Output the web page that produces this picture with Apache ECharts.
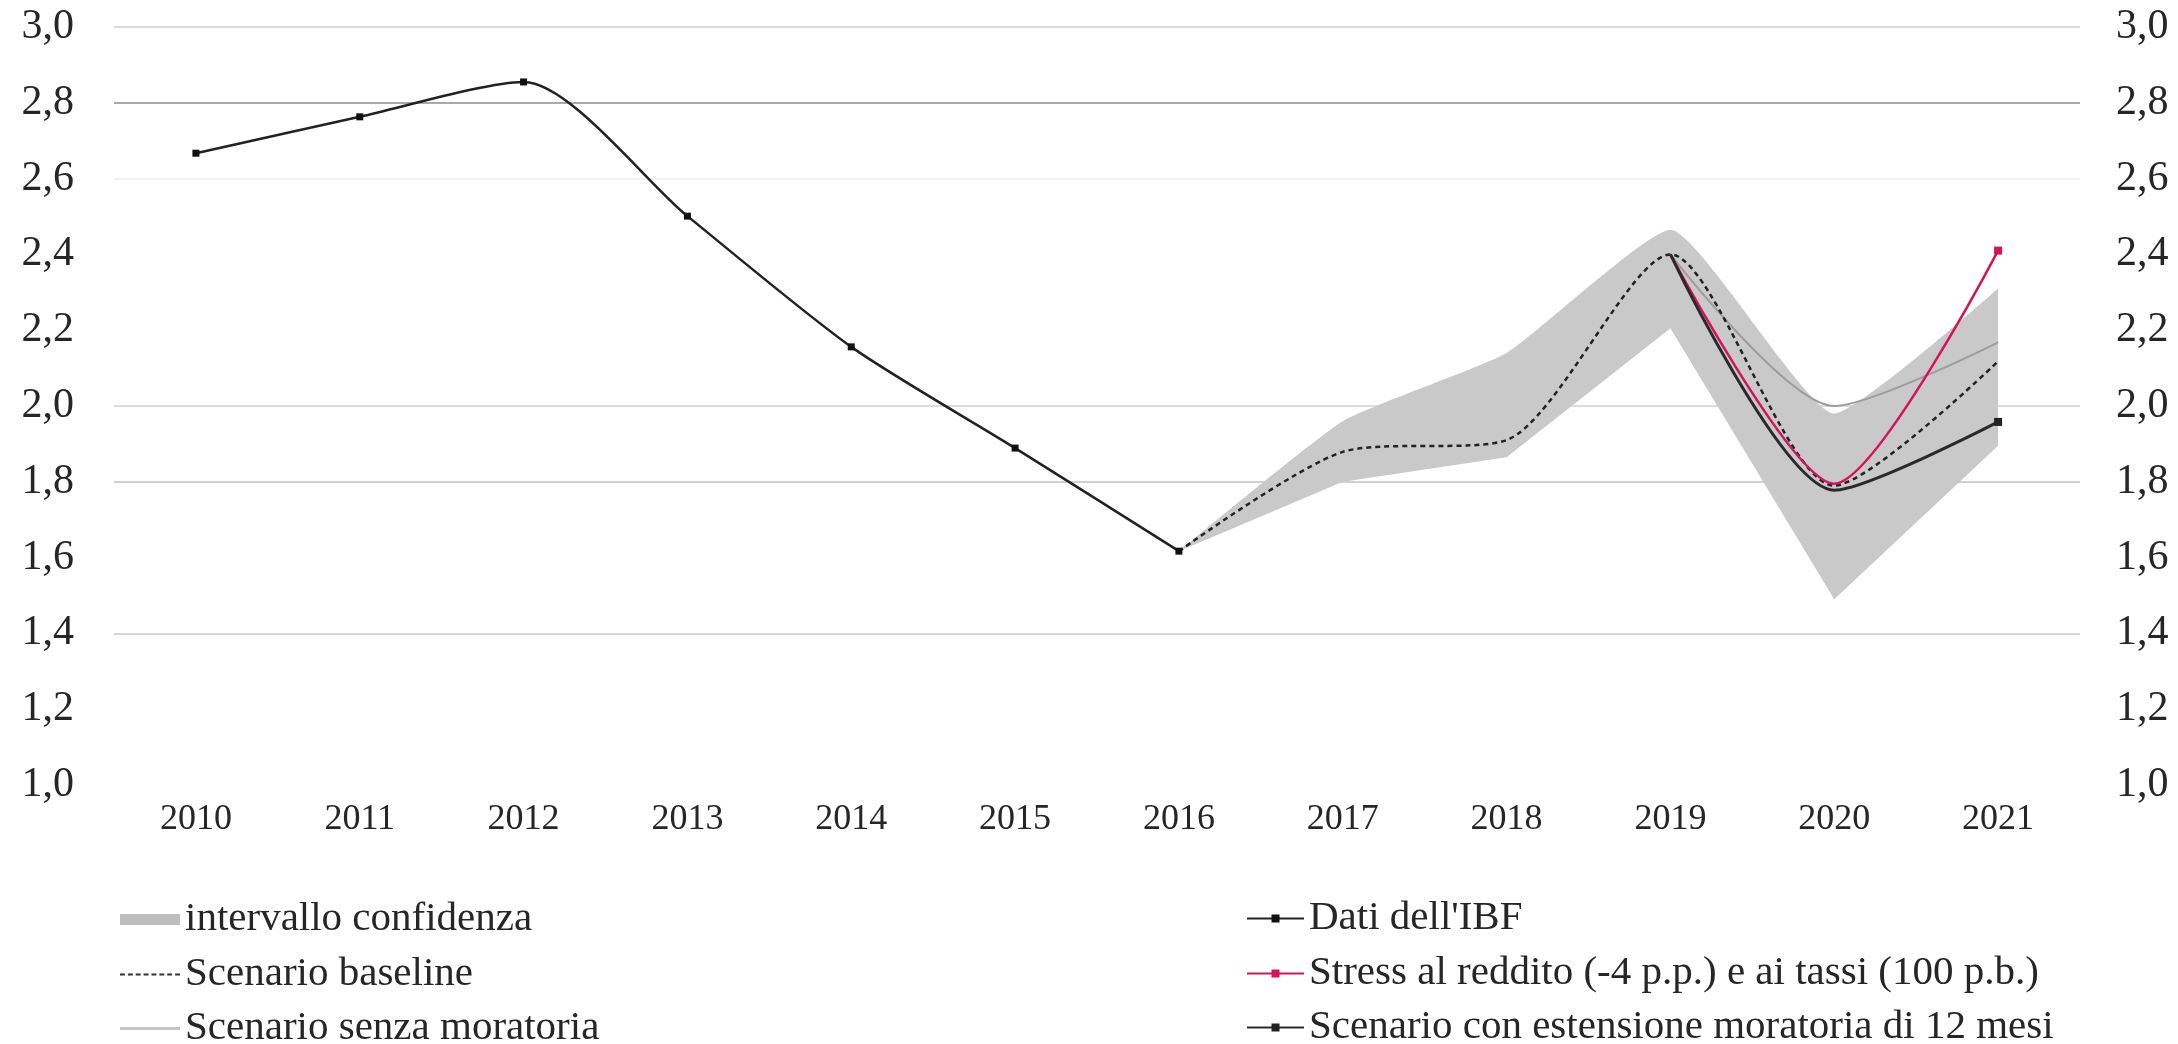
<!DOCTYPE html>
<html>
<head>
<meta charset="utf-8">
<script src="https://cdn.jsdelivr.net/npm/echarts@6/dist/echarts.min.js"></script>
<style>
html,body{margin:0;padding:0;background:#fff;}
#chart{width:2178px;height:1044px;}
</style>
</head>
<body>
<div id="chart"></div>
<script>
// ---- data ----
const years = ['2010','2011','2012','2013','2014','2015','2016','2017','2018','2019','2020','2021'];
const datiIBF      = [2.667, 2.763, 2.855, 2.501, 2.156, 1.889, 1.617, null, null, null, null, null];
const baseline     = [null, null, null, null, null, null, 1.617, 1.879, 1.910, 2.400, 1.790, 2.118];
const senzaMorat   = [null, null, null, null, null, null, null, null, null, 2.400, 2.000, 2.168];
const stress       = [null, null, null, null, null, null, null, null, null, 2.400, 1.795, 2.410];
const estensione   = [null, null, null, null, null, null, null, null, null, 2.400, 1.778, 1.958];
const bandLower    = [null, null, null, null, null, null, 1.617, 1.800, 1.865, 2.205, 1.490, 1.895];
const bandUpper    = [null, null, null, null, null, null, 1.617, 1.960, 2.140, 2.465, 1.980, 2.310];
const yMin = 1.0, yMax = 3.0, yStep = 0.2;

const bandWidth = bandUpper.map((u, i) => (u == null || bandLower[i] == null) ? null : +(u - bandLower[i]).toFixed(3));
// marker only on the last point
const markLast = arr => arr.map((v, i) => (i === arr.length - 1 ? v : { value: v, symbol: 'none' }));

const FONT = 'Liberation Serif';
const TXT = '#262626';
const fmt = v => v.toFixed(1).replace('.', ',');

const N_BAND = 'intervallo confidenza';
const N_BASE = 'Scenario baseline';
const N_SENZA = 'Scenario senza moratoria';
const N_DATI = "Dati dell'IBF";
const N_STRESS = 'Stress al reddito (-4 p.p.) e ai tassi (100 p.b.)';
const N_EST = 'Scenario con estensione moratoria di 12 mesi';

// dashed legend icon path
let dashPath = 'path://';
for (let x = 0; x < 60; x += 8) dashPath += 'M' + x + ',0h5v2h-5z';

function legendItem(item, left, top, itemWidth, itemHeight) {
  return {
    orient: 'horizontal', left: left, top: top, padding: 0,
    itemWidth: itemWidth, itemHeight: itemHeight,
    textStyle: { fontFamily: FONT, fontSize: 41, color: TXT, lineHeight: 41 },
    data: [item]
  };
}

const chart = echarts.init(document.getElementById('chart'));

chart.setOption({
  animation: false,
  backgroundColor: '#ffffff',
  grid: { left: 114, right: 98, top: 27, bottom: 259, containLabel: false },
  legend: [
    legendItem({ name: N_BAND, icon: 'rect', itemStyle: { color: '#bdbdbd' } }, 120, 899, 60, 11),
    legendItem({ name: N_BASE, icon: dashPath, itemStyle: { color: '#333' } }, 120, 954, 60, 2.5),
    legendItem({ name: N_SENZA, icon: 'rect', itemStyle: { color: '#c4c4c4' } }, 120, 1008, 60, 3),
    legendItem(N_DATI, 1246, 898, 57, 10),
    legendItem(N_STRESS, 1246, 953, 57, 10),
    legendItem(N_EST, 1246, 1007, 57, 10)
  ],
  xAxis: {
    type: 'category', data: years, boundaryGap: true,
    axisLine: { show: false }, axisTick: { show: false },
    axisLabel: { fontFamily: FONT, fontSize: 36, color: TXT, margin: 17 }
  },
  yAxis: [
    {
      type: 'value', min: yMin, max: yMax, interval: yStep, position: 'left',
      axisLine: { show: false }, axisTick: { show: false },
      axisLabel: { fontFamily: FONT, fontSize: 42, color: TXT, margin: 40, formatter: fmt },
      splitLine: { show: true, lineStyle: { width: 2, color: [
        'rgba(0,0,0,0)', 'rgba(0,0,0,0)', '#d6d6d6', 'rgba(0,0,0,0)', '#d0d0d0', '#dcdcdc',
        'rgba(0,0,0,0)', 'rgba(0,0,0,0)', '#f2f2f2', '#a9a9a9', '#dadada'
      ] } }
    },
    {
      type: 'value', min: yMin, max: yMax, interval: yStep, position: 'right',
      axisLine: { show: false }, axisTick: { show: false },
      axisLabel: { fontFamily: FONT, fontSize: 42, color: TXT, margin: 36, formatter: fmt },
      splitLine: { show: false }
    }
  ],
  series: [
    {
      name: 'bandLower', type: 'line', stack: 'band', data: bandLower,
      symbol: 'none', lineStyle: { width: 0, opacity: 0 }, silent: true, z: 1
    },
    {
      name: N_BAND, type: 'line', stack: 'band', data: bandWidth, smooth: 0.15,
      symbol: 'none', lineStyle: { width: 0, opacity: 0 },
      itemStyle: { color: '#c6c6c6' },
      areaStyle: { color: '#c9c9c9', opacity: 1 }, silent: true, z: 1
    },
    {
      name: N_SENZA, type: 'line', data: senzaMorat, smooth: 0.25,
      symbol: 'none', itemStyle: { color: '#b5b5b5' },
      lineStyle: { color: '#9d9d9d', width: 2 }, z: 3
    },
    {
      name: N_BASE, type: 'line', data: baseline, smooth: 0.25,
      symbol: 'none', itemStyle: { color: '#222' },
      lineStyle: { color: '#222', width: 2.5, type: [5, 4] }, z: 4
    },
    {
      name: N_DATI, type: 'line', data: datiIBF, smooth: 0.25,
      symbol: 'rect', symbolSize: 7, showSymbol: true,
      itemStyle: { color: '#111' }, lineStyle: { color: '#222', width: 2.5 }, z: 5
    },
    {
      name: N_STRESS, type: 'line', data: markLast(stress), smooth: 0.25,
      symbol: 'rect', symbolSize: 8, showSymbol: true,
      itemStyle: { color: '#d4145a' }, lineStyle: { color: '#d4145a', width: 2.5 }, z: 5
    },
    {
      name: N_EST, type: 'line', data: markLast(estensione), smooth: 0.25,
      symbol: 'rect', symbolSize: 8, showSymbol: true,
      itemStyle: { color: '#222' }, lineStyle: { color: '#2a2a2a', width: 3 }, z: 6
    }
  ]
});
</script>
</body>
</html>
